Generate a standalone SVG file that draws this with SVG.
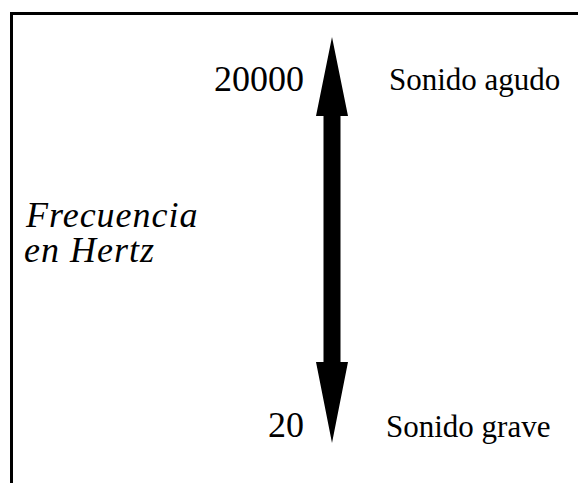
<svg xmlns="http://www.w3.org/2000/svg" width="578" height="483" viewBox="0 0 578 483">
<style>
.t{font-family:"Liberation Serif","Times New Roman",serif;fill:#000}
.n{font-size:36px}
.s{font-size:31px}
.i{font-size:36px;font-style:italic;letter-spacing:1px}
</style>
<rect width="578" height="483" fill="#fff"/>
<g id="frame"><path d="M11.5,483 V13.5 H578" fill="none" stroke="#000" stroke-width="3"/></g>
<g id="connectors">
<path id="arrow" d="M332,37 L348,116 L340.5,116 L340.5,362 L348,362 L332,443 L316,362 L323.5,362 L323.5,116 L316,116 Z" fill="#000"/>
</g>
<g id="label-axis"><text class="t i" x="26" y="227">Frecuencia</text><text class="t i" x="24" y="262">en Hertz</text></g>
<g id="label-20000"><text class="t n" x="304" y="91" text-anchor="end">20000</text></g>
<g id="label-agudo"><text class="t s" x="389" y="90">Sonido agudo</text></g>
<g id="label-20"><text class="t n" x="304" y="437" text-anchor="end">20</text></g>
<g id="label-grave"><text class="t s" x="386" y="437">Sonido grave</text></g>
</svg>
